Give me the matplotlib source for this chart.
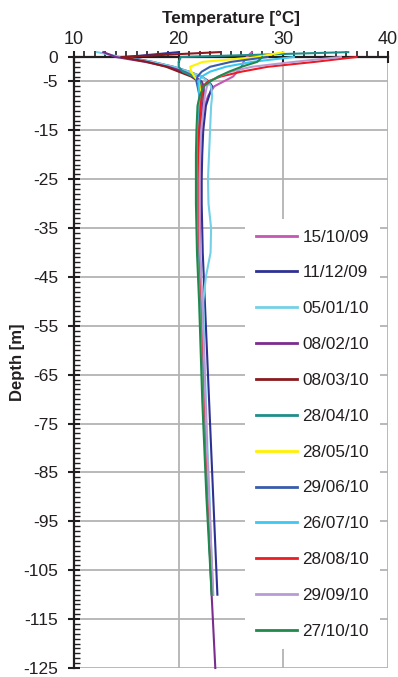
import numpy as np
import matplotlib
matplotlib.use("Agg")
import matplotlib.pyplot as plt
from matplotlib.ticker import MultipleLocator, FixedLocator

plt.rcParams['font.family'] = ['Liberation Sans', 'DejaVu Sans']
plt.rcParams['axes.unicode_minus'] = False

# depth of each reading (m), +1 is the air sensor above ground
depth = [1, 0, -1, -2, -3, -4, -5, -6, -8, -10, -15, -20, -25, -30, -35,
         -40, -45, -50, -60, -70, -80, -90, -100, -110]
depth_long = depth + [-125]
nan = np.nan

labels = ['15/10/09', '11/12/09', '05/01/10', '08/02/10', '08/03/10', '28/04/10',
          '28/05/10', '29/06/10', '26/07/10', '28/08/10', '29/09/10', '27/10/10']
colors = ['#c457b4', '#2e3192', '#74d0e6', '#7b2d8e', '#8b1a1e', '#1f8e8a',
          '#fff200', '#3a5cab', '#3cc8f2', '#ed1c24', '#b99bd3', '#1f8a4c']

t_151009 = [27.0, 26.5, 26.2, 26.0, 25.6, 25.2, 24.3, 23.4, 22.8, 22.5, 22.2, 22.1, 22.0, 22.0, 22.0,
            22.05, 22.1, 22.2, 22.35, 22.5, 22.65, 22.85, 23.05, 23.25]
t_111209 = [20.0, 15.0, 17.5, 19.5, 21.0, 22.2, 22.9, 23.2, 22.9, 22.6, 22.35, 22.25, 22.2, 22.2, 22.25,
            22.3, 22.4, 22.5, 22.7, 22.9, 23.1, 23.3, 23.5, 23.7]
t_050110 = [12.2, 14.5, 17.5, 19.5, 21.0, 22.2, 22.8, 23.1, 23.2, 23.1, 23.0, 22.9, 22.8, 22.85, 23.1,
            23.05, 22.6, 22.35, 22.45, 22.6, 22.75, 22.95, 23.1, 23.3]
t_080210 = [12.8, 14.0, 16.8, 19.0, 20.5, 21.5, 22.2, 22.4, 22.4, 22.3, 22.1, 22.0, 21.95, 21.95, 22.0,
            22.0, 22.1, 22.2, 22.35, 22.5, 22.65, 22.8, 22.95, 23.15, 23.5]
t_080310 = [23.9, 14.5, 17.0, 18.8, 20.0, 21.2, 21.9, 22.1, 22.2, 22.1, 21.95, 21.85, 21.85, 21.85, 21.9,
            21.95, 22.05, 22.15, 22.3, 22.45, 22.6, 22.8, 23.0, 23.2]
t_280410 = [36.2, 20.2, 20.0, 20.0, 20.4, 21.4, 22.0, 22.2, 22.2, 22.1, 21.9, 21.8, 21.8, 21.8, 21.85,
            21.9, 22.0, 22.1, 22.25, 22.4, 22.55, 22.75, 22.95, 23.2]
t_280510 = [30.0, 27.5, 22.3, 21.1, 21.2, 21.5, 21.9, 22.0, 22.1, 22.0, 21.85, 21.8, 21.8, 21.8, 21.85,
            21.9, 22.0, 22.1, 22.25, 22.4, 22.6, 22.8, 23.0, 23.2]
t_290610 = [nan, 28.5, 25.0, 23.0, 22.2, 21.8, 21.7, 21.8, 22.0, 22.0, 21.9, 21.85, 21.85, 21.85, 21.9,
            21.95, 22.05, 22.15, 22.3, 22.45, 22.6, 22.8, 23.0, 23.2]
t_260710 = [nan, 31.0, 27.0, 24.5, 23.0, 22.2, 21.9, 21.9, 22.0, 22.0, 21.9, 21.85, 21.85, 21.85, 21.9,
            21.95, 22.05, 22.15, 22.3, 22.45, 22.6, 22.8, 23.0, 23.2]
t_280810 = [nan, 37.0, 33.0, 28.5, 26.0, 24.0, 22.8, 22.3, 22.2, 22.1, 21.95, 21.9, 21.9, 21.9, 21.95,
            22.0, 22.1, 22.2, 22.35, 22.5, 22.65, 22.85, 23.05, 23.25]
t_290910 = [nan, 35.5, 31.0, 27.0, 25.0, 23.8, 23.0, 22.7, 22.5, 22.4, 22.15, 22.05, 22.0, 22.0, 22.0,
            22.05, 22.15, 22.25, 22.4, 22.55, 22.7, 22.9, 23.1, 23.3]
t_271010 = [nan, 28.0, 27.5, 26.0, 24.8, 23.8, 23.0, 22.4, 22.0, 21.8, 21.7, 21.65, 21.65, 21.65, 21.7,
            21.75, 21.85, 21.95, 22.1, 22.25, 22.45, 22.65, 22.9, 23.15]

series = [t_151009, t_111209, t_050110, t_080210, t_080310, t_280410,
          t_280510, t_290610, t_260710, t_280810, t_290910, t_271010]

W, H = 398, 677
fig = plt.figure(figsize=(W / 100, H / 100), dpi=100)
ax = fig.add_axes([74 / W, 1 - 668 / H, (388 - 74) / W, (668 - 57) / H])

for t, lab, c in zip(series, labels, colors):
    d = depth_long if len(t) == len(depth_long) else depth
    ax.plot(t, d, color=c, lw=1.5, label=lab, clip_on=False, zorder=3)

ax.set_xlim(10, 40)
ax.set_ylim(-125, 0)

ax.xaxis.tick_top()
ax.xaxis.set_label_position('top')
ax.set_xticks([10, 20, 30, 40])
ax.xaxis.set_minor_locator(MultipleLocator(1))
ax.yaxis.set_major_locator(FixedLocator([0] + list(range(-5, -126, -10))))
ax.yaxis.set_minor_locator(MultipleLocator(1))

ink = '#231f20'
ax.tick_params(axis='x', which='major', direction='inout', length=8, width=1.5,
               labelsize=13, pad=2.5, colors=ink)
ax.tick_params(axis='x', which='minor', direction='out', length=4, width=1.2, colors=ink)
ax.tick_params(axis='y', which='major', direction='inout', length=9, width=1.5,
               labelsize=12.5, pad=7, colors=ink)
ax.tick_params(axis='y', which='minor', direction='in', length=4, width=1.0, colors=ink)

for s in ['right', 'bottom']:
    ax.spines[s].set_visible(False)
for s in ['left', 'top']:
    ax.spines[s].set_linewidth(1.6)
    ax.spines[s].set_color(ink)

# gridlines (skip the 0 depth line, which is the top spine)
for y in range(-5, -126, -10):
    ax.axhline(y, color='#b3b3b3', lw=1.3, zorder=1)
for x in [20, 30, 40]:
    ax.axvline(x, color='#b3b3b3', lw=1.3, zorder=1)

ax.set_xlabel('Temperature [°C]', fontsize=12.3, fontweight='bold', labelpad=6, color=ink)
ax.set_ylabel('Depth [m]', fontsize=12, fontweight='bold', color=ink)
ax.yaxis.set_label_coords((25 - 74) / (388 - 74), 0.5)

leg = ax.legend(loc='upper left', bbox_to_anchor=(245 / W, 1 - 219 / H),
                bbox_transform=fig.transFigure, fontsize=12.3, frameon=True,
                handlelength=2.45, handletextpad=0.3, labelspacing=1.22,
                borderpad=0.62, borderaxespad=0)
leg.get_frame().set_facecolor('white')
leg.get_frame().set_edgecolor('none')
leg.get_frame().set_alpha(1)
leg.set_zorder(5)
for h in leg.get_lines():
    h.set_linewidth(2)
for tx in leg.get_texts():
    tx.set_color(ink)

fig.savefig('out.png', dpi=100)
